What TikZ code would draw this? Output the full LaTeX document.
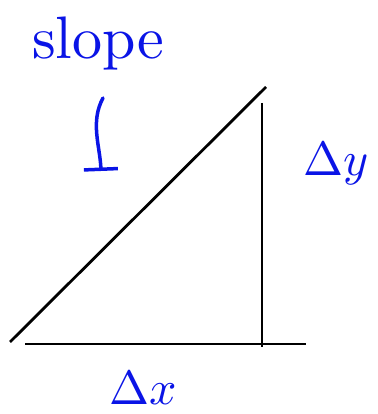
\documentclass[tikz,border=0pt]{standalone}
\usepackage{tikz}
\usetikzlibrary{arrows.meta}
\usepackage{amsmath}
\definecolor{pen}{RGB}{10,20,230}
\newcommand{\dd}[1]{\Delta #1}

\begin{document}
\begin{tikzpicture}[x=1pt,y=1pt,
	ink/.style = {line width=2.8pt, black},
	pentext/.style = {pen, scale=4.8, inner sep=0pt}]
	\useasboundingbox (0,0) rectangle (377,414);
	\coordinate (lo) at (10,72);
	\coordinate (hi) at (266,327);
	\coordinate (vtop) at (262,311);
	\coordinate (vbot) at (262,67);
	\coordinate (hl) at (25,70);
	\coordinate (hr) at (306,70);
	\draw[ink] (lo) -- (hi);
	\draw[ink] (vtop) -- (vbot);
	\draw[ink] (hl) -- (hr);
	\node[pentext, scale=1.25] (slope) at (98,370) {slope};
	\coordinate (atop) at (103,316);
	\coordinate (abot) at (101,243);
	\draw[pen, line width=3.5pt, line cap=round, -{Bar[width=34pt,line width=3.5pt]}]
		(atop) .. controls (90,292) and (100,268) .. (abot);
	\node[pentext] (dy) at (336,250) {$\dd{y}$};
	\node[pentext] (dx) at (143,26) {$\dd{x}$};
\end{tikzpicture}
\end{document}
